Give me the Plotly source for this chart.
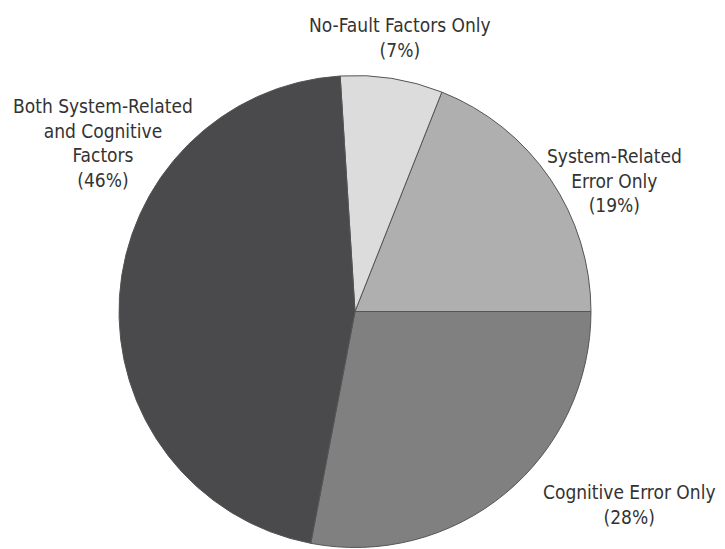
import plotly.graph_objects as go

categories = ["Cognitive Error Only", "System-Related Error Only",
              "No-Fault Factors Only", "Both System-Related and Cognitive Factors"]
values = [28, 19, 7, 46]
colors = ["#808081", "#afafb0", "#dcdcdd", "#4a4a4c"]

label_texts = [
    "Cognitive Error Only<br>(28%)",
    "System-Related<br>Error Only<br>(19%)",
    "No-Fault Factors Only<br>(7%)",
    "Both System-Related<br>and Cognitive<br>Factors<br>(46%)",
]
label_pos = [(0.8579, 0.0956), (0.8372, 0.6867), (0.5407, 0.9463), (0.1310, 0.7550)]

fig = go.Figure(go.Pie(
    labels=categories, values=values, sort=False, direction="counterclockwise",
    rotation=90, textinfo="none", hoverinfo="label+percent",
    marker=dict(colors=colors, line=dict(color="#555555", width=1)),
    domain=dict(x=[0.1531, 0.8041], y=[0.0173, 0.8770]),
    showlegend=False,
))

font = dict(family="Liberation Sans Narrow, DejaVu Sans Condensed, Arial Narrow, sans-serif",
            size=19, color="#333333")
for txt, (x, y) in zip(label_texts, label_pos):
    fig.add_annotation(text=txt, x=x, y=y, xref="paper", yref="paper",
                       showarrow=False, font=font, align="center",
                       xanchor="center", yanchor="middle")

fig.update_layout(width=725, height=549, margin=dict(l=0, r=0, t=0, b=0),
                  paper_bgcolor="white", plot_bgcolor="white")
fig.write_html("out.html")
